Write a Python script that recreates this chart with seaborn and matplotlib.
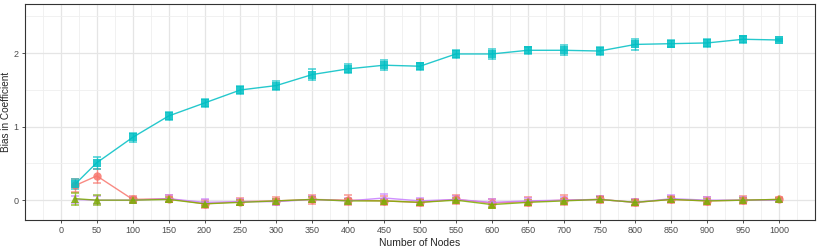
import matplotlib
matplotlib.use("Agg")
import matplotlib.pyplot as plt
import seaborn as sns
import pandas as pd
import numpy as np
from matplotlib.ticker import MultipleLocator

nodes = [20, 50, 100, 150, 200, 250, 300, 350, 400, 450, 500,
         550, 600, 650, 700, 750, 800, 850, 900, 950, 1000]

red_bias = [0.20, 0.33, 0.01, 0.02, -0.05, -0.02, -0.01, 0.01, 0.00, -0.01, -0.03,
            0.01, -0.04, -0.02, 0.00, 0.01, -0.03, 0.01, -0.01, 0.00, 0.01]
red_err = [0.09, 0.09, 0.05, 0.05, 0.05, 0.05, 0.05, 0.06, 0.07, 0.06, 0.05,
           0.06, 0.06, 0.06, 0.07, 0.05, 0.05, 0.05, 0.05, 0.05, 0.03]

green_bias = [0.02, 0.00, 0.00, 0.01, -0.05, -0.03, -0.01, 0.01, -0.01, -0.01, -0.03,
              0.00, -0.06, -0.03, -0.01, 0.01, -0.03, 0.01, -0.01, 0.00, 0.01]
green_err = [0.08, 0.07, 0.03, 0.03, 0.03, 0.03, 0.03, 0.03, 0.03, 0.03, 0.03,
             0.03, 0.03, 0.03, 0.03, 0.03, 0.03, 0.03, 0.03, 0.03, 0.02]

cyan_bias = [0.22, 0.51, 0.855, 1.146, 1.323, 1.50, 1.56, 1.71, 1.787, 1.837, 1.823,
             1.99, 1.99, 2.04, 2.04, 2.03, 2.12, 2.13, 2.14, 2.19, 2.18]
cyan_err = [0.07, 0.08, 0.06, 0.06, 0.06, 0.05, 0.06, 0.07, 0.06, 0.07, 0.05,
            0.06, 0.07, 0.05, 0.07, 0.06, 0.07, 0.05, 0.06, 0.05, 0.02]

purple_bias = [0.01, 0.00, 0.00, 0.02, -0.03, -0.02, -0.02, 0.01, -0.01, 0.03, -0.01,
               0.01, -0.03, -0.01, 0.00, 0.01, -0.03, 0.02, 0.00, 0.00, 0.00]
purple_err = [0.05, 0.05, 0.04, 0.05, 0.04, 0.04, 0.04, 0.04, 0.04, 0.05, 0.04,
              0.04, 0.04, 0.04, 0.04, 0.04, 0.04, 0.05, 0.04, 0.04, 0.02]

# drawing order: red, purple, green, cyan
series_names = ["A", "D", "B", "C"]
colors = ["#F8766D", "#C77CFF", "#7CAE00", "#00BFC4"]
markers = ["o", ".", "^", "s"]
biases = [red_bias, purple_bias, green_bias, cyan_bias]
errs = [red_err, purple_err, green_err, cyan_err]

rows = []
for name, b in zip(series_names, biases):
    for x, y in zip(nodes, b):
        rows.append({"Nodes": x, "Bias": y, "Series": name})
df = pd.DataFrame(rows)

sns.set_style("white")
plt.rcParams["font.family"] = ["Liberation Sans", "DejaVu Sans"]

fig = plt.figure(figsize=(8.22, 2.49), dpi=100)
ax = fig.add_axes([25 / 822, 1 - 220 / 249, 790 / 822, 216 / 249])

# grid
ax.set_axisbelow(True)
ax.xaxis.set_major_locator(MultipleLocator(50))
ax.xaxis.set_minor_locator(MultipleLocator(25))
ax.yaxis.set_major_locator(MultipleLocator(1))
ax.yaxis.set_minor_locator(MultipleLocator(0.5))
ax.grid(which="major", color="#E5E5E5", linewidth=0.9)
ax.grid(which="minor", color="#EFEFEF", linewidth=0.6)

for name, c, b, e in zip(series_names, colors, biases, errs):
    ax.errorbar(nodes, b, yerr=e, fmt="none", ecolor=c, elinewidth=1.0,
                capsize=2.8, capthick=1.1, alpha=0.75, zorder=2)

sns.lineplot(data=df, x="Nodes", y="Bias", hue="Series", style="Series",
             hue_order=series_names, style_order=series_names,
             palette=colors, markers=markers, dashes=False, markersize=6,
             markeredgewidth=0, linewidth=1.0, alpha=0.85, legend=False,
             ax=ax, zorder=3)

ax.set_xlim(-50, 1050)
ax.set_ylim(-0.27, 2.67)
ax.set_xticks([0] + nodes[1:])
ax.set_xticklabels([str(v) for v in [0] + nodes[1:]])
ax.set_yticks([0, 1, 2])

ax.tick_params(axis="both", which="major", labelsize=6.5, labelcolor="#4D4D4D",
               color="#333333", length=2.5, width=0.6, direction="out",
               bottom=True, left=True, pad=2)
ax.tick_params(which="minor", length=0)
for s in ax.spines.values():
    s.set_color("#333333")
    s.set_linewidth(0.8)

ax.set_xlabel("Number of Nodes", fontsize=7.5, labelpad=2)
ax.set_ylabel("Bias in Coefficient", fontsize=7.2, labelpad=2)

fig.savefig("out.png", dpi=100)
